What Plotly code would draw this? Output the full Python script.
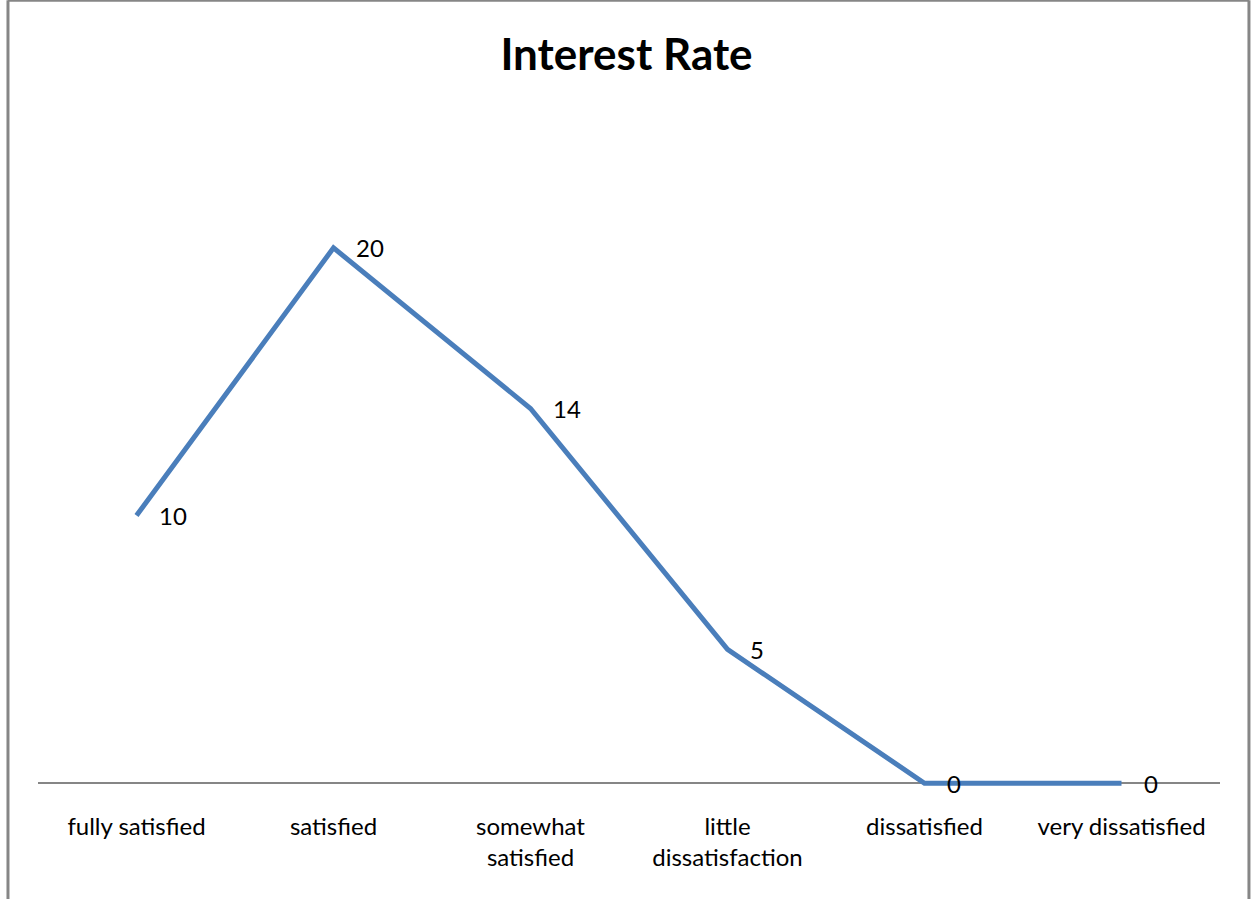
import plotly.graph_objects as go

# Survey responses on interest rate satisfaction
categories = ["fully satisfied", "satisfied", "somewhat satisfied",
              "little dissatisfaction", "dissatisfied", "very dissatisfied"]
tick_labels = ["fully satisfied", "satisfied", "somewhat<br>satisfied",
               "little<br>dissatisfaction", "dissatisfied", "very dissatisfied"]
counts = [10, 20, 14, 5, 0, 0]

LINE_BLUE = "#4A7EBB"
GRAY = "#868686"
FONT = "Lato"

fig = go.Figure()
fig.add_trace(go.Scatter(
    x=categories, y=counts, mode="lines",
    line=dict(color=LINE_BLUE, width=5),
    hoverinfo="x+y", showlegend=False,
))

# value labels to the right of each point
for c, v in zip(categories, counts):
    fig.add_annotation(
        x=c, y=v, text=str(v), showarrow=False,
        xanchor="left", yanchor="middle", xshift=20,
        font=dict(family=FONT, size=24, color="black"),
    )

# chart frame
fig.add_shape(type="line", xref="paper", yref="paper",
              x0=-0.0254, x1=-0.0254, y0=1.1635, y1=-0.25,
              line=dict(color=GRAY, width=3))
fig.add_shape(type="line", xref="paper", yref="paper",
              x0=-0.0254, x1=1.0245, y0=1.1635, y1=1.1635,
              line=dict(color=GRAY, width=3))
fig.add_shape(type="line", xref="paper", yref="paper",
              x0=1.0245, x1=1.0245, y0=1.1635, y1=-0.25,
              line=dict(color=GRAY, width=3))

fig.update_layout(
    width=1253, height=899,
    margin=dict(l=38, r=33, t=114, b=89),
    paper_bgcolor="white", plot_bgcolor="white",
    font=dict(family=FONT, color="black"),
    title=dict(text="<b>Interest Rate</b>", x=0.5, xanchor="center",
               y=0.939, yanchor="middle",
               font=dict(family=FONT, size=44, color="black")),
    xaxis=dict(type="category", range=[-0.5, 5.5],
               tickvals=categories, ticktext=tick_labels,
               showgrid=False, showline=False, ticks="",
               tickfont=dict(family=FONT, size=24, color="black")),
    yaxis=dict(range=[-1, 25], showgrid=False, showticklabels=False,
               zeroline=True, zerolinecolor=GRAY, zerolinewidth=2,
               showline=False, ticks=""),
)

fig.write_html("out.html")
